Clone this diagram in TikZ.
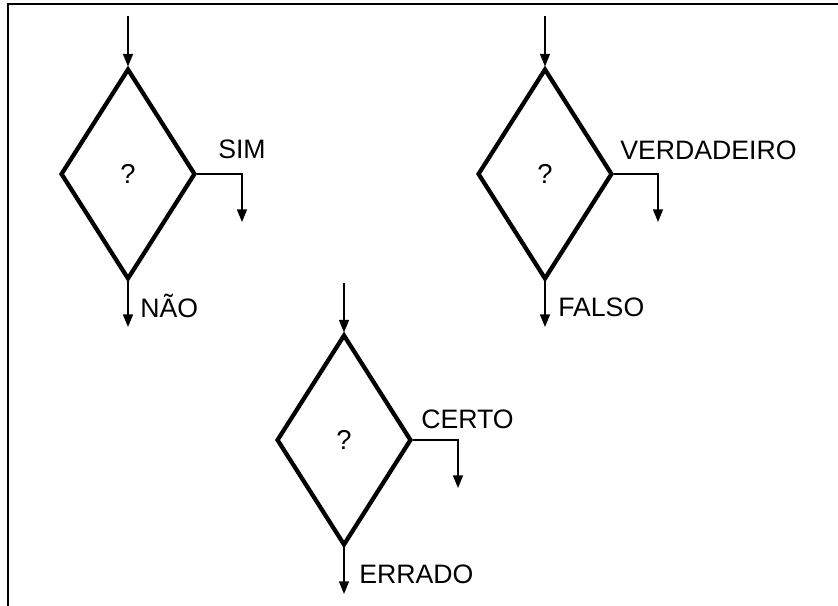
\documentclass[tikz,border=0pt]{standalone}
\usepackage{fontspec}
\setmainfont{Liberation Sans}
\usetikzlibrary{positioning, shapes.geometric, arrows.meta}

\tikzset{
  decision/.style={draw, diamond, line width=3.2pt, minimum width=101pt, minimum height=158pt, inner sep=0pt, font=\fontsize{20.5}{24}\selectfont},
  flow/.style={-{Triangle[length=9.5pt, width=7.5pt]}, line width=1.1pt},
  answer/.style={anchor=base west, inner sep=0pt, font=\fontsize{20}{24}\selectfont}
}

\begin{document}
\begin{tikzpicture}[x=0.75pt, y=-0.75pt, line join=miter]
        \useasboundingbox (0,0) rectangle (838,606);

        % frame
        \draw[line width=1.4pt] (8,606) -- (8,4) -- (838,4);

        % first decision (SIM / NAO)
        \node[decision] (q1) at (128,174) {?};
        \coordinate (in1)  at (128,16);
        \coordinate (yes1) at (242,222);
        \coordinate (no1)  at (128,327);
        \draw[flow] (in1) -- (q1.north);
        \draw[flow] (q1.east) -| (yes1);
        \draw[flow] (q1.south) -- (no1);
        \node[answer] (sim) at (218,159) {SIM};
        \node[answer] (nao) at (140,317) {NÃO};

        % second decision (VERDADEIRO / FALSO)
        \node[decision] (q2) at (545,174) {?};
        \coordinate (in2)  at (545,16);
        \coordinate (yes2) at (658,222);
        \coordinate (no2)  at (545,327);
        \draw[flow] (in2) -- (q2.north);
        \draw[flow] (q2.east) -| (yes2);
        \draw[flow] (q2.south) -- (no2);
        \node[answer] (verdadeiro) at (620,160) {VERDADEIRO};
        \node[answer] (falso) at (558,316) {FALSO};

        % third decision (CERTO / ERRADO)
        \node[decision] (q3) at (344,440) {?};
        \coordinate (in3)  at (344,283);
        \coordinate (yes3) at (458,488);
        \coordinate (no3)  at (344,594);
        \draw[flow] (in3) -- (q3.north);
        \draw[flow] (q3.east) -| (yes3);
        \draw[flow] (q3.south) -- (no3);
        \node[answer] (certo) at (421,428) {CERTO};
        \node[answer] (errado) at (359,583) {ERRADO};
\end{tikzpicture}
\end{document}
